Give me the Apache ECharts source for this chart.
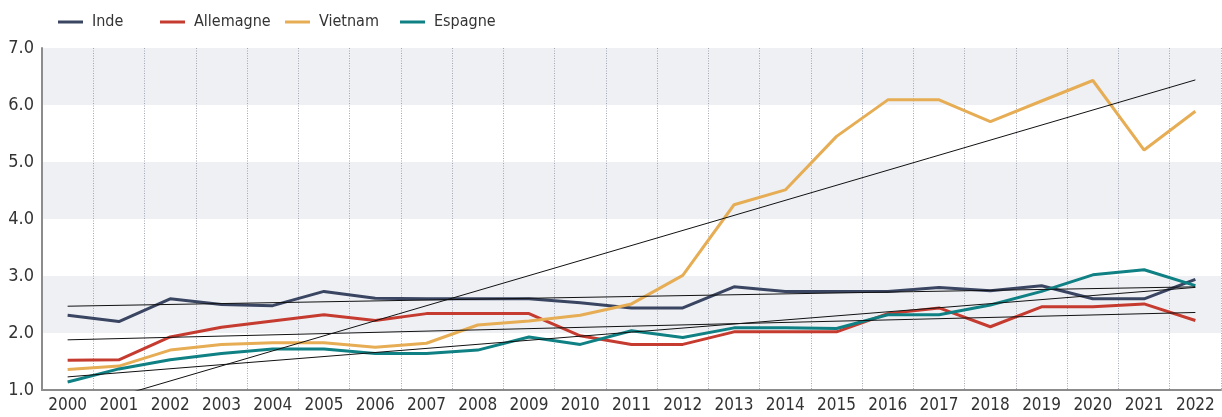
<!DOCTYPE html>
<html>
<head>
<meta charset="utf-8">
<script src="https://cdn.jsdelivr.net/npm/echarts@6/dist/echarts.min.js"></script>
<style>
  html, body { margin: 0; padding: 0; background: #ffffff; }
  #chart { width: 1222px; height: 417px; }
</style>
</head>
<body>
<div id="chart"></div>
<script>
// Years on the horizontal axis
const years = ['2000','2001','2002','2003','2004','2005','2006','2007','2008','2009','2010',
  '2011','2012','2013','2014','2015','2016','2017','2018','2019','2020','2021','2022'];

// Series values per year
const inde      = [2.31, 2.20, 2.60, 2.50, 2.48, 2.73, 2.61, 2.60, 2.60, 2.60, 2.53, 2.44, 2.44, 2.81, 2.73, 2.73, 2.73, 2.80, 2.74, 2.83, 2.60, 2.60, 2.94];
const allemagne = [1.52, 1.53, 1.93, 2.10, 2.21, 2.32, 2.22, 2.34, 2.34, 2.34, 1.95, 1.80, 1.80, 2.02, 2.02, 2.02, 2.34, 2.44, 2.11, 2.46, 2.46, 2.51, 2.22];
const vietnam   = [1.36, 1.42, 1.70, 1.80, 1.83, 1.83, 1.75, 1.82, 2.14, 2.21, 2.31, 2.51, 3.01, 4.25, 4.51, 5.45, 6.09, 6.09, 5.71, 6.07, 6.43, 5.21, 5.89];
const espagne   = [1.14, 1.37, 1.53, 1.64, 1.72, 1.72, 1.64, 1.64, 1.70, 1.93, 1.80, 2.04, 1.92, 2.09, 2.09, 2.08, 2.32, 2.32, 2.49, 2.73, 3.02, 3.11, 2.83];

// Linear trend lines: value in the first year and in the last year
const trendStart = { Inde: 2.47, Allemagne: 1.88, Vietnam: 0.63, Espagne: 1.23 };
const trendEnd   = { Inde: 2.81, Allemagne: 2.36, Vietnam: 6.44, Espagne: 2.80 };

// Y axis ticks
const yMin = 1, yMax = 7, yStep = 1;

const colors = { Inde: '#3a4562', Allemagne: '#c63b2f', Vietnam: '#e6ad55', Espagne: '#0f8083' };
const values = { Inde: inde, Allemagne: allemagne, Vietnam: vietnam, Espagne: espagne };
const names = ['Inde', 'Allemagne', 'Vietnam', 'Espagne'];
// Horizontal position of each legend entry
const legendLeft = { Inde: 58, Allemagne: 160, Vietnam: 285, Espagne: 400 };

function trendData(name) {
  const arr = years.map(() => null);
  arr[0] = trendStart[name];
  arr[arr.length - 1] = trendEnd[name];
  return arr;
}

const font = '"Liberation Sans Narrow", "DejaVu Sans Condensed", Roboto, sans-serif';

const series = [];
names.forEach(n => {
  series.push({
    name: n,
    type: 'line',
    data: values[n],
    symbol: 'none',
    lineStyle: { width: 3, color: colors[n] },
    itemStyle: { color: colors[n] },
    z: 3
  });
});
names.forEach(n => {
  series.push({
    name: n + ' (tendance)',
    type: 'line',
    data: trendData(n),
    connectNulls: true,
    symbol: 'none',
    lineStyle: { width: 1, color: '#111111' },
    itemStyle: { color: '#111111' },
    silent: true,
    z: 4
  });
});

const legends = names.map(n => ({
  data: [n],
  left: legendLeft[n],
  top: 14,
  padding: 0,
  icon: 'rect',
  itemWidth: 25,
  itemHeight: 3,
  itemGap: 8,
  textStyle: { fontFamily: font, fontSize: 16, color: '#333333', padding: [0, 0, 0, 4] }
}));

const chart = echarts.init(document.getElementById('chart'), null, { renderer: 'canvas' });
chart.setOption({
  animation: false,
  backgroundColor: '#ffffff',
  legend: legends,
  grid: { left: 42, right: 1, top: 48, bottom: 27, containLabel: false },
  xAxis: {
    type: 'category',
    data: years,
    boundaryGap: true,
    axisLine: { show: true, lineStyle: { color: '#8c8c8c', width: 2 } },
    axisTick: { show: false },
    axisLabel: { fontFamily: font, fontSize: 17, color: '#333333', margin: 7 },
    splitLine: { show: true, lineStyle: { color: '#a3a7b3', type: [1, 1.5], width: 1 } }
  },
  yAxis: {
    type: 'value',
    min: yMin,
    max: yMax,
    interval: yStep,
    axisLine: { show: true, lineStyle: { color: '#8c8c8c', width: 2 } },
    axisTick: { show: false },
    axisLabel: {
      fontFamily: font, fontSize: 18, color: '#333333', margin: 8,
      formatter: v => v.toFixed(1)
    },
    splitLine: { show: false },
    splitArea: { show: true, areaStyle: { color: ['#ffffff', '#eef0f4'] } }
  },
  series: series
});
</script>
</body>
</html>
